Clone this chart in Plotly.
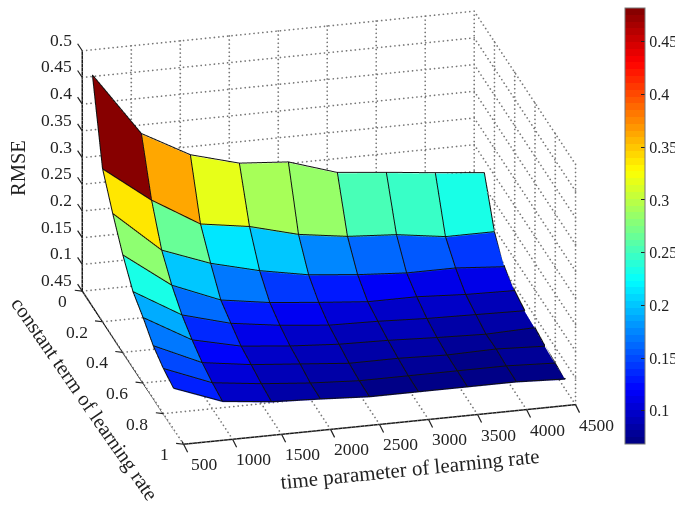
import numpy as np
import plotly.graph_objects as go

time_param = [500, 1000, 1500, 2000, 2500, 3000, 3500, 4000, 4500]
constant_term = [0.1, 0.2, 0.3, 0.4, 0.5, 0.6, 0.7, 0.8, 0.9]
rmse_01 = [.482, .363, .314, .289, .282, .253, .244, .234, .225]
rmse_02 = [.335, .267, .213, .199, .175, .162, .156, .143, .143]
rmse_03 = [.280, .202, .168, .145, .128, .119, .113, .113, .106]
rmse_04 = [.231, .165, .128, .114, .105, .097, .097, .092, .090]
rmse_05 = [.191, .138, .113, .100, .091, .089, .085, .083, .081]
rmse_06 = [.171, .120, .099, .090, .084, .082, .078, .075, .078]
rmse_07 = [.147, .106, .093, .085, .077, .077, .074, .076, .072]
rmse_08 = [.133, .097, .086, .078, .073, .073, .073, .073, .069]
rmse_09 = [.125, .091, .081, .077, .072, .072, .072, .072, .068]
rmse = np.array([rmse_01, rmse_02, rmse_03, rmse_04, rmse_05, rmse_06, rmse_07, rmse_08, rmse_09])

x_ticks = [500, 1000, 1500, 2000, 2500, 3000, 3500, 4000, 4500]
y_ticks = [0, 0.2, 0.4, 0.6, 0.8, 1]
y_labels = ["0", "0.2", "0.4", "0.6", "0.8", "1"]
z_ticks = [0.05, 0.1, 0.15, 0.2, 0.25, 0.3, 0.35, 0.4, 0.45, 0.5]
z_labels = ["0.45", "0.1", "0.15", "0.2", "0.25", "0.3", "0.35", "0.4", "0.45", "0.5"]
cb_ticks = [0.1, 0.15, 0.2, 0.25, 0.3, 0.35, 0.4, 0.45]
cb_labels = ["0.1", "0.15", "0.2", "0.25", "0.3", "0.35", "0.4", "0.45"]
FONT = "Liberation Serif"


def jet(t):
    r = np.clip(min(4 * t - 1.5, -4 * t + 4.5), 0, 1)
    g = np.clip(min(4 * t - 0.5, -4 * t + 3.5), 0, 1)
    b = np.clip(min(4 * t + 0.5, -4 * t + 2.5), 0, 1)
    return f"rgb({r*255:.0f},{g*255:.0f},{b*255:.0f})"


N = 64
scale = []
for i in range(N):
    c = jet((i + 0.5) / N)
    scale += [[i / N, c], [(i + 1) / N, c]]

X, Y = np.meshgrid(time_param, constant_term)
nr, nc = rmse.shape
idx = lambda r, c: r * nc + c
I, J, K, intens = [], [], [], []
for r in range(nr - 1):
    for c in range(nc - 1):
        a, b, d, e = idx(r, c), idx(r, c + 1), idx(r + 1, c + 1), idx(r + 1, c)
        I += [a, a]
        J += [b, d]
        K += [d, e]
        intens += [rmse[r, c], rmse[r, c]]

CMIN, CMAX = 0.0685, 0.482
fig = go.Figure()
fig.add_trace(go.Mesh3d(
    x=X.ravel(), y=Y.ravel(), z=rmse.ravel(), i=I, j=J, k=K,
    intensity=intens, intensitymode="cell", colorscale=scale, cmin=CMIN, cmax=CMAX,
    flatshading=True, hoverinfo="skip",
    lighting=dict(ambient=1, diffuse=0, specular=0, roughness=1, fresnel=0),
    colorbar=dict(x=625 / 675, xanchor="left", xref="paper", y=1 - 8 / 506, yanchor="top", yref="paper",
                  len=436 / 506, lenmode="fraction", thickness=20, thicknessmode="pixels",
                  tickvals=cb_ticks, ticktext=cb_labels, ticks="inside", ticklen=4, tickcolor="#222",
                  tickfont=dict(family=FONT, size=16, color="#222"), outlinecolor="#777", outlinewidth=1,
                  xpad=0, ypad=0),
))

# surface edges, lifted a hair so that they stay in front of the faces
LIFT = 0.0015
seg_x, seg_y, seg_z = [], [], []
for r in range(nr):
    seg_x += list(X[r]) + [None]
    seg_y += list(Y[r]) + [None]
    seg_z += list(rmse[r] + LIFT) + [None]
for c in range(nc):
    seg_x += list(X[:, c]) + [None]
    seg_y += list(Y[:, c]) + [None]
    seg_z += list(rmse[:, c] + LIFT) + [None]
fig.add_trace(go.Scatter3d(x=seg_x, y=seg_y, z=seg_z, mode="lines", hoverinfo="skip", showlegend=False,
                           line=dict(color="#111", width=2)))

# dotted walls drawn as rows of small dots along each tick
x0, x1, y0, y1, z0, z1 = x_ticks[0], x_ticks[-1], y_ticks[0], y_ticks[-1], z_ticks[0], z_ticks[-1]
grid = []
for xv in x_ticks:
    grid += [((xv, y0, z0), (xv, y0, z1)), ((xv, y0, z0), (xv, y1, z0))]
for yv in y_ticks:
    grid += [((x0, yv, z0), (x1, yv, z0)), ((x1, yv, z0), (x1, yv, z1))]
for zv in z_ticks:
    grid += [((x0, y0, zv), (x1, y0, zv)), ((x1, y0, zv), (x1, y1, zv))]
gx, gy, gz = [], [], []
for p, q in grid:
    n = 90 if p[0] != q[0] else (45 if p[1] != q[1] else 60)
    t = np.linspace(0, 1, n)
    gx += list(p[0] + (q[0] - p[0]) * t)
    gy += list(p[1] + (q[1] - p[1]) * t)
    gz += list(p[2] + (q[2] - p[2]) * t)
fig.add_trace(go.Scatter3d(x=gx, y=gy, z=gz, mode="markers", hoverinfo="skip", showlegend=False,
                           marker=dict(color="#777", size=1, line=dict(width=0))))

# the three black axis lines
fig.add_trace(go.Scatter3d(x=[x0, x0, x0, x1], y=[y0, y0, y1, y1], z=[z1, z0, z0, z0], mode="lines",
                           hoverinfo="skip", showlegend=False, line=dict(color="#1a1a1a", width=3)))

# eye
K_SCALE = 1.6
AX, AY, AZ = K_SCALE, K_SCALE, 0.645 * K_SCALE
a = np.radians(104.5)
el = np.radians(23)
d = np.array([np.cos(el) * np.cos(a), -np.cos(el) * np.sin(a), np.sin(el)])
right = np.array([np.sin(a), np.cos(a), 0])
up = np.array([-np.sin(el) * np.cos(a), np.sin(el) * np.sin(a), np.cos(el)])
R = 2.0
PX_UNIT = 250.0
shift = -(-8.5 * right + 25 * up) / PX_UNIT
eye = d * R + shift

axis_common = dict(
    showbackground=False, showgrid=False, zeroline=False, showspikes=False,
    showline=False, ticks="", showticklabels=False, title=dict(text=""),
)
tick_font = dict(family=FONT, size=17.5, color="#222")
tick_mark = dict(text=" ", showarrow=True, arrowhead=0, arrowwidth=1.2, arrowcolor="#222", standoff=0,
                 font=dict(family=FONT, size=1))
scene_ann = []
for v in x_ticks:
    scene_ann.append(dict(x=v, y=y1, z=z0, text=str(v), showarrow=False, xanchor="center", yanchor="middle",
                          xshift=21, yshift=-20, font=tick_font))
    scene_ann.append(dict(x=v, y=y1, z=z0, ax=5, ay=10, **tick_mark))
for v, t in zip(y_ticks, y_labels):
    scene_ann.append(dict(x=x0, y=v, z=z0, text=t, showarrow=False, xanchor="right", yanchor="middle",
                          xshift=-13, yshift=-10, font=tick_font))
    scene_ann.append(dict(x=x0, y=v, z=z0, ax=-9, ay=-1, **tick_mark))
for v, t in zip(z_ticks, z_labels):
    scene_ann.append(dict(x=x0, y=y0, z=v, text=t, showarrow=False, xanchor="right", yanchor="middle",
                          xshift=-8, yshift=11, font=tick_font))
    scene_ann.append(dict(x=x0, y=y0, z=v, ax=-6, ay=-9, **tick_mark))

ann = dict(xref="paper", yref="paper", showarrow=False, xanchor="center", yanchor="middle")
fig.update_layout(
    width=675, height=506, margin=dict(l=0, r=0, t=0, b=0, autoexpand=False), paper_bgcolor="white",
    scene=dict(
        domain=dict(x=[0, 1], y=[0, 1]),
        aspectmode="manual", aspectratio=dict(x=AX, y=AY, z=AZ),
        camera=dict(projection=dict(type="orthographic"), eye=dict(x=eye[0], y=eye[1], z=eye[2]),
                    center=dict(x=shift[0], y=shift[1], z=shift[2]), up=dict(x=0, y=0, z=1)),
        xaxis=dict(range=[x0, x1], tickmode="array", tickvals=x_ticks, **axis_common),
        yaxis=dict(range=[y1, y0], tickmode="array", tickvals=y_ticks, **axis_common),
        zaxis=dict(range=[z0, z1], tickmode="array", tickvals=z_ticks, **axis_common),
        annotations=scene_ann,
    ),
    annotations=[
        dict(text="time parameter of learning rate", x=410 / 675, y=1 - 469 / 506, textangle=-5.8,
             font=dict(family=FONT, size=21, color="#222"), **ann),
        dict(text="constant term of learning rate", x=85 / 675, y=1 - 399 / 506, textangle=55.3,
             font=dict(family=FONT, size=20.5, color="#222"), **ann),
        dict(text="RMSE", x=18 / 675, y=1 - 168 / 506, textangle=-90,
             font=dict(family=FONT, size=20.5, color="#222"), **ann),
    ],
)
fig.write_html("out.html", config={"displayModeBar": False},
               post_script="document.body.style.margin='0';document.documentElement.style.overflow='hidden';")
